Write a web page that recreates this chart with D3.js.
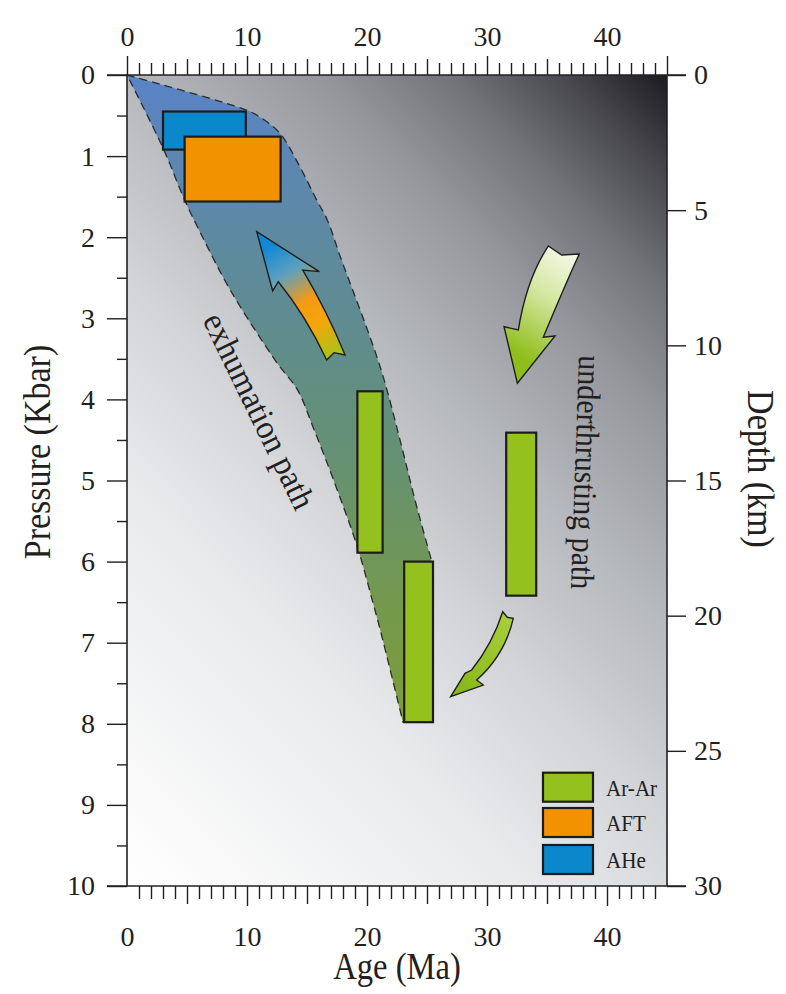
<!DOCTYPE html>
<html><head><meta charset="utf-8">
<script src="https://cdn.jsdelivr.net/npm/d3@7"></script>
<style>
html,body{margin:0;padding:0;background:#fff;}
svg{display:block;}
text{font-family:"Liberation Serif","Times New Roman",serif;fill:#231f20;}
</style>
</head><body><svg id="c" width="786" height="994"></svg>
<script>
// ---------- data ----------
const ageLabels = [0, 10, 20, 30, 40];
const pressureLabels = [0, 1, 2, 3, 4, 5, 6, 7, 8, 9, 10];
const depthLabels = [0, 5, 10, 15, 20, 25, 30];

const boxMethod   = ["AHe", "AFT", "Ar-Ar", "Ar-Ar", "Ar-Ar"];
const boxAgeMin   = [3.0, 4.8, 19.2, 23.1, 31.6];
const boxAgeMax   = [9.9, 12.8, 21.3, 25.5, 34.1];
const boxPMin     = [0.45, 0.76, 3.90, 6.00, 4.41];
const boxPMax     = [0.92, 1.56, 5.89, 7.98, 6.42];

const legendMethods = ["Ar-Ar", "AFT", "AHe"];
const methodColors  = {"Ar-Ar": "#95c11f", "AFT": "#f39200", "AHe": "#0a88cb"};

// exhumation envelope (age Ma, pressure kbar): right boundary, then left boundary back up
const envelopeAge = [0, 9.9, 11.1, 12.75, 14.4, 15.8, 16.7, 17.75, 21.1, 22.75, 24.0, 25.4, 25.5,
                     23.0, 21.1, 20.5, 19.2, 17.2, 15.5, 14.2, 12.5, 8.6, 6.3, 4.8, 3.0];
const envelopeP   = [0, 0.43, 0.52, 0.72, 1.13, 1.54, 1.79, 2.23, 3.60, 4.50, 5.24, 6.00, 7.98,
                     7.98, 6.84, 6.51, 5.82, 4.99, 4.34, 3.88, 3.55, 2.65, 2.00, 1.54, 0.90];

// arrows: [tip, barbR, shaftR0, shaftRmid, shaftR1, notch, shaftL1, shaftLmid, shaftL0, barbL]
const exhumArrowAge = [10.81, 16.03, 14.64, 16.54, 18.17, 17.25, 16.64, 14.75, 12.61, 12.14];
const exhumArrowP   = [1.932, 2.425, 2.404, 2.922, 3.452, 3.424, 3.514, 2.996, 2.549, 2.663];
const underArrowAge = [32.53, 35.67, 34.69, 36.36, 37.69, 36.22, 35.11, 33.58, 32.61, 31.42];
const underArrowP   = [3.801, 3.218, 3.234, 2.651, 2.207, 2.219, 2.109, 2.569, 3.144, 3.104];
const smallArrowAge = [26.97, 29.69, 29.14, 31.08, 32.19, 31.69, 31.31, 30.25, 28.72, 28.17];
const smallArrowP   = [7.666, 7.522, 7.460, 7.115, 6.699, 6.687, 6.618, 6.991, 7.337, 7.377];

// ---------- layout ----------
const L = 127, R = 667, T = 75, B = 886;
const x = d3.scaleLinear().domain([0, 45]).range([L, R]);
const y = d3.scaleLinear().domain([0, 10]).range([T, B]);
const yd = d3.scaleLinear().domain([0, 30]).range([T, B]);
const FONT = '"Liberation Serif","Times New Roman",serif';

const svg = d3.select("#c");
const defs = svg.append("defs");

function grad(id, x1, y1, x2, y2, stops) {
  const g = defs.append("linearGradient").attr("id", id).attr("gradientUnits", "userSpaceOnUse")
    .attr("x1", x1).attr("y1", y1).attr("x2", x2).attr("y2", y2);
  stops.forEach(s => g.append("stop").attr("offset", s[0]).attr("stop-color", s[1]));
}
grad("bg", L, B, L + 675, B - 675,
  [[0, "#ffffff"], [0.3, "#e9eaec"], [0.45, "#d2d4d7"], [0.6, "#b5b8bc"], [0.74, "#95979c"],
   [0.84, "#717378"], [0.92, "#4a4a50"], [1, "#1b1b20"]]);
grad("env", 0, y(0), 0, y(8),
  [[0, "#5a83c8"], [0.18, "#5d88ab"], [0.38, "#5f8c90"], [0.6, "#669172"], [0.82, "#74994c"], [1, "#7c9d38"]]);
grad("exArrow", x(17.4), y(3.5), x(12.0), y(2.1),
  [[0, "#a2c618"], [0.3, "#f3a60c"], [0.5, "#f49a14"], [0.75, "#5fa0bd"], [1, "#1288d4"]]);
grad("unArrow", x(37.5), y(2.2), x(32.2), y(3.4),
  [[0, "#f6f9ec"], [0.45, "#d4e7a0"], [1, "#8fbe1c"]]);
grad("smArrow", x(32), y(6.7), x(27.5), y(7.6),
  [[0, "#a9cf3a"], [1, "#86b81a"]]);

// plot background
svg.append("rect").attr("x", L).attr("y", T).attr("width", R - L).attr("height", B - T)
  .attr("fill", "url(#bg)");

// envelope: two smooth boundaries with sharp corners at the origin and at the tip
const envPts = envelopeAge.map((a, i) => [x(a), y(envelopeP[i])]);
const smooth = d3.line().curve(d3.curveCatmullRom.alpha(0.5));
const rightPts = envPts.slice(0, 12);
const leftPts = envPts.slice(13).concat([envPts[0]]);
const envPath = smooth(rightPts) + "L" + envPts[12] + smooth(leftPts).replace(/^M/, "L") + "Z";
svg.append("path").attr("d", envPath)
  .attr("fill", "url(#env)")
  .attr("stroke", "#2b2b2b").attr("stroke-width", 1.3)
  .attr("stroke-dasharray", "8,5");

// arrows
function arrowPath(ages, ps) {
  const p = ages.map((a, i) => [x(a), y(ps[i])]);
  const ctrl = (s, m, e) => [2 * m[0] - (s[0] + e[0]) / 2, 2 * m[1] - (s[1] + e[1]) / 2];
  const cR = ctrl(p[2], p[3], p[4]);
  const cL = ctrl(p[6], p[7], p[8]);
  return `M${p[0]}L${p[1]}L${p[2]}Q${cR[0]},${cR[1]} ${p[4][0]},${p[4][1]}L${p[5]}L${p[6]}` +
         `Q${cL[0]},${cL[1]} ${p[8][0]},${p[8][1]}L${p[9]}Z`;
}
[[exhumArrowAge, exhumArrowP, "exArrow"], [underArrowAge, underArrowP, "unArrow"],
 [smallArrowAge, smallArrowP, "smArrow"]].forEach(a =>
  svg.append("path").attr("d", arrowPath(a[0], a[1]))
    .attr("fill", `url(#${a[2]})`).attr("stroke", "#1e1e1e").attr("stroke-width", 1.4));

// boxes
svg.append("g").selectAll("rect").data(boxMethod).join("rect")
  .attr("x", (d, i) => x(boxAgeMin[i]))
  .attr("y", (d, i) => y(boxPMin[i]))
  .attr("width", (d, i) => x(boxAgeMax[i]) - x(boxAgeMin[i]))
  .attr("height", (d, i) => y(boxPMax[i]) - y(boxPMin[i]))
  .attr("fill", d => methodColors[d])
  .attr("stroke", "#1c1c1c").attr("stroke-width", 2.2);

// condensed text helper
function ctext(tx, ty, rot, size, sx, anchor, str) {
  return svg.append("text")
    .attr("transform", `translate(${tx},${ty}) rotate(${rot}) scale(${sx},1)`)
    .attr("text-anchor", anchor).attr("font-size", size).text(str);
}

// annotation texts
ctext(249, 416, 64, 34, 0.94, "middle", "exhumation path");
ctext(575, 472, 92, 33, 0.91, "middle", "underthrusting path");

// legend
const legY = [772.7, 808, 845];
legendMethods.forEach((m, i) => {
  svg.append("rect").attr("x", 543).attr("y", legY[i]).attr("width", 50).attr("height", 29)
    .attr("fill", methodColors[m]).attr("stroke", "#1c1c1c").attr("stroke-width", 2.2);
  ctext(606, legY[i] + 23, 0, 24, 0.88, "start", m);
});

// frame lines
const axisColor = "#231f20";
const frame = [[L, T, L, B], [R, T, R, B], [107, T, 686, T], [107, B, 686, B]];
frame.forEach(f => svg.append("line").attr("x1", f[0]).attr("y1", f[1]).attr("x2", f[2]).attr("y2", f[3])
  .attr("stroke", axisColor).attr("stroke-width", 1.6));

function styleTicks(ax, fs) {
  ax.select(".domain").remove();
  ax.selectAll(".tick line").attr("stroke", axisColor).attr("stroke-width", 1.4);
  ax.selectAll(".tick text").attr("font-size", fs).style("font-family", FONT).attr("fill", "#231f20");
}

// top axis
const topAx = svg.append("g").attr("transform", `translate(0,${T})`)
  .call(d3.axisTop(x).tickValues(d3.range(0, 46, 1)).tickSize(12)
    .tickFormat(d => ageLabels.includes(d) ? d : ""));
styleTicks(topAx, 28);
topAx.selectAll(".tick line")
  .attr("y2", d => (d % 10 === 0 || d === 45) ? -19 : (d % 5 === 0 ? -16 : -12));
topAx.selectAll(".tick text").attr("y", -29);

// bottom axis
const botAx = svg.append("g").attr("transform", `translate(0,${B})`)
  .call(d3.axisBottom(x).tickValues(d3.range(0, 45, 1)).tickSize(12)
    .tickFormat(d => ageLabels.includes(d) ? d : ""));
styleTicks(botAx, 28);
botAx.selectAll(".tick line")
  .attr("y2", d => d === 0 ? 0 : (d % 10 === 0 ? 20 : (d % 5 === 0 ? 18 : 13)));
botAx.selectAll(".tick text").attr("y", 40);

// left axis
const leftAx = svg.append("g").attr("transform", `translate(${L},0)`)
  .call(d3.axisLeft(y).tickValues(d3.range(0, 10.01, 0.5)).tickSize(10)
    .tickFormat(d => pressureLabels.includes(d) ? d : ""));
styleTicks(leftAx, 28);
leftAx.selectAll(".tick line").attr("x2", d => Number.isInteger(d) ? -20 : -10);
leftAx.selectAll(".tick text").attr("x", -32);

// right axis
const rightAx = svg.append("g").attr("transform", `translate(${R},0)`)
  .call(d3.axisRight(yd).tickValues(depthLabels).tickSize(19).tickFormat(d => d));
styleTicks(rightAx, 28);
rightAx.selectAll(".tick text").attr("x", 27);

// axis titles
ctext(397, 979, 0, 37, 0.88, "middle", "Age (Ma)");
ctext(50, 452, -90, 37, 0.92, "middle", "Pressure (Kbar)");
ctext(748, 469, 90, 37, 0.92, "middle", "Depth (km)");
</script>
</body></html>
